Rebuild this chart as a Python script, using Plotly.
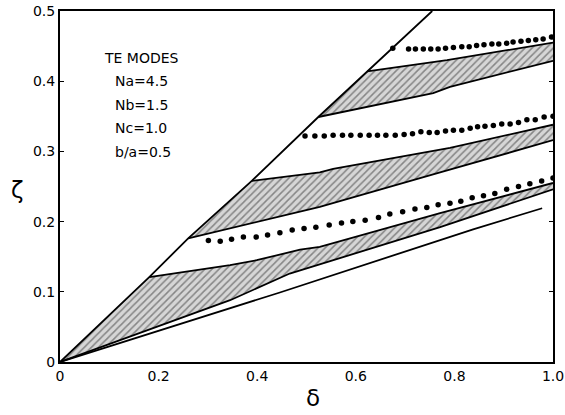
import plotly.graph_objects as go

# ---------------- data ----------------
DIAG_X = [0, 0.181, 0.26, 0.389, 0.524, 0.623, 0.755]
DIAG_Y = [0, 0.121, 0.176, 0.258, 0.349, 0.414, 0.5]

# lowest line
L0_X = [0, 0.446, 0.838, 0.978]
L0_Y = [0, 0.099, 0.189, 0.219]

# band A (bottom shaded band)
UA_X = [0.181, 0.345, 0.399, 0.487, 0.527, 0.771, 1.0]
UA_Y = [0.121, 0.138, 0.145, 0.160, 0.164, 0.212, 0.255]
LA_X = [0, 0.345, 0.466, 0.771, 1.0]
LA_Y = [0, 0.088, 0.126, 0.192, 0.246]

# band B (middle shaded band)
UB_X = [0.389, 0.527, 0.554, 0.791, 1.0]
UB_Y = [0.258, 0.270, 0.275, 0.305, 0.338]
LB_X = [0.26, 0.527, 0.771, 1.0]
LB_Y = [0.176, 0.221, 0.270, 0.316]

# band C (top shaded band)
UC_X = [0.623, 0.785, 1.0]
UC_Y = [0.414, 0.430, 0.455]
LC_X = [0.524, 0.757, 0.791, 1.0]
LC_Y = [0.349, 0.383, 0.392, 0.429]

# dotted curves
D1_X = [0.301, 0.325, 0.348, 0.372, 0.398, 0.421, 0.446, 0.471, 0.495, 0.519,
        0.546, 0.571, 0.594, 0.619, 0.646, 0.669, 0.695, 0.720, 0.744, 0.767,
        0.791, 0.813, 0.836, 0.859, 0.882, 0.906, 0.930, 0.953, 0.977, 1.0]
D1_Y = [0.173, 0.172, 0.175, 0.178, 0.178, 0.181, 0.184, 0.188, 0.190, 0.192,
        0.195, 0.198, 0.200, 0.202, 0.206, 0.211, 0.214, 0.218, 0.220, 0.224,
        0.226, 0.229, 0.234, 0.237, 0.240, 0.246, 0.250, 0.254, 0.258, 0.262]

D2_X = [0.497, 0.517, 0.536, 0.554, 0.573, 0.590, 0.609, 0.627, 0.644, 0.661,
        0.680, 0.698, 0.715, 0.732, 0.749, 0.765, 0.782, 0.798, 0.815, 0.832,
        0.847, 0.862, 0.879, 0.896, 0.913, 0.930, 0.947, 0.964, 0.982, 1.0]
D2_Y = [0.322, 0.322, 0.322, 0.323, 0.323, 0.323, 0.323, 0.323, 0.323, 0.323,
        0.323, 0.324, 0.325, 0.328, 0.327, 0.327, 0.329, 0.330, 0.330, 0.333,
        0.335, 0.336, 0.337, 0.339, 0.339, 0.341, 0.345, 0.345, 0.349, 0.350]

D3_X = [0.675, 0.707, 0.721, 0.737, 0.752, 0.767, 0.782, 0.798, 0.815, 0.830,
        0.845, 0.860, 0.876, 0.890, 0.906, 0.919, 0.935, 0.950, 0.965, 0.980, 0.997]
D3_Y = [0.447, 0.446, 0.446, 0.446, 0.446, 0.446, 0.447, 0.448, 0.449, 0.449,
        0.451, 0.452, 0.453, 0.453, 0.454, 0.456, 0.457, 0.458, 0.459, 0.460, 0.463]

X_TICKS = [0, 0.2, 0.4, 0.6, 0.8, 1.0]
X_TICK_LABELS = ["0", "0.2", "0.4", "0.6", "0.8", "1.0"]
Y_TICKS = [0, 0.1, 0.2, 0.3, 0.4, 0.5]
Y_TICK_LABELS = ["0", "0.1", "0.2", "0.3", "0.4", "0.5"]

LEGEND_LINES = ["TE MODES", "Na=4.5", "Nb=1.5", "Nc=1.0", "b/a=0.5"]
LEGEND_Y = [0.433, 0.400, 0.366, 0.333, 0.299]

# ---------------- figure ----------------
FONT = "DejaVu Sans"
fig = go.Figure()

pattern = dict(shape="/", fgcolor="#333333", bgcolor="#d6d6d6", size=5, solidity=0.3)

def band(ux, uy, lx, ly):
    fig.add_trace(go.Scatter(
        x=list(ux) + list(lx)[::-1], y=list(uy) + list(ly)[::-1],
        mode="none", fill="toself", fillpattern=pattern, fillcolor="#d6d6d6",
        hoverinfo="skip", showlegend=False))

band(UA_X, UA_Y, LA_X, LA_Y)
band(UB_X, UB_Y, LB_X, LB_Y)
band(UC_X, UC_Y, LC_X, LC_Y)

line_style = dict(color="black", width=1.8)
for xs, ys in [(DIAG_X, DIAG_Y), (L0_X, L0_Y), (UA_X, UA_Y), (LA_X, LA_Y),
               (UB_X, UB_Y), (LB_X, LB_Y), (UC_X, UC_Y), (LC_X, LC_Y)]:
    fig.add_trace(go.Scatter(x=xs, y=ys, mode="lines", line=line_style,
                             showlegend=False, hoverinfo="skip"))

for xs, ys in [(D1_X, D1_Y), (D2_X, D2_Y), (D3_X, D3_Y)]:
    fig.add_trace(go.Scatter(x=xs, y=ys, mode="markers",
                             marker=dict(color="black", size=5.5),
                             showlegend=False, hoverinfo="skip"))

# right-side inward ticks via an overlaying axis
fig.add_trace(go.Scatter(x=[None], y=[None], yaxis="y2", showlegend=False))

for i, (txt, yv) in enumerate(zip(LEGEND_LINES, LEGEND_Y)):
    fig.add_annotation(x=0.085 if i == 0 else 0.107, y=yv, text=txt,
                       showarrow=False, xanchor="left", yanchor="middle",
                       font=dict(family=FONT, size=14, color="black"))

# axis titles
fig.add_annotation(xref="paper", yref="paper", x=-0.087, y=0.49, text="ζ",
                   showarrow=False, xanchor="center", yanchor="middle",
                   font=dict(family=FONT, size=23, color="black"))
fig.add_annotation(xref="paper", yref="paper", x=0.513, y=-0.103, text="δ",
                   showarrow=False, xanchor="center", yanchor="middle",
                   font=dict(family=FONT, size=23, color="black"))

fig.update_layout(
    width=565, height=415,
    margin=dict(l=60, r=12, t=11, b=53, autoexpand=False),
    paper_bgcolor="white", plot_bgcolor="white",
    font=dict(family=FONT, size=14, color="black"),
    xaxis=dict(range=[0, 1.0], tickvals=X_TICKS, ticktext=X_TICK_LABELS,
               automargin=False,
               showgrid=False, zeroline=False, showline=True, mirror=True,
               linecolor="black", linewidth=2, ticks="",
               tickfont=dict(family=FONT, size=14)),
    yaxis=dict(range=[0, 0.5], tickvals=Y_TICKS, ticktext=Y_TICK_LABELS,
               automargin=False,
               showgrid=False, zeroline=False, showline=True, mirror=True,
               linecolor="black", linewidth=2, ticks="inside", ticklen=4,
               tickcolor="black", tickfont=dict(family=FONT, size=14)),
    yaxis2=dict(range=[0, 0.5], overlaying="y", side="right", tickvals=Y_TICKS[1:-1],
                automargin=False,
                showticklabels=False, ticks="inside", ticklen=4, tickcolor="black",
                showgrid=False, zeroline=False, showline=False),
)

fig.write_html("out.html",
               config={"displayModeBar": False},
               post_script="document.body.style.margin='0px';document.body.style.overflow='hidden';")
